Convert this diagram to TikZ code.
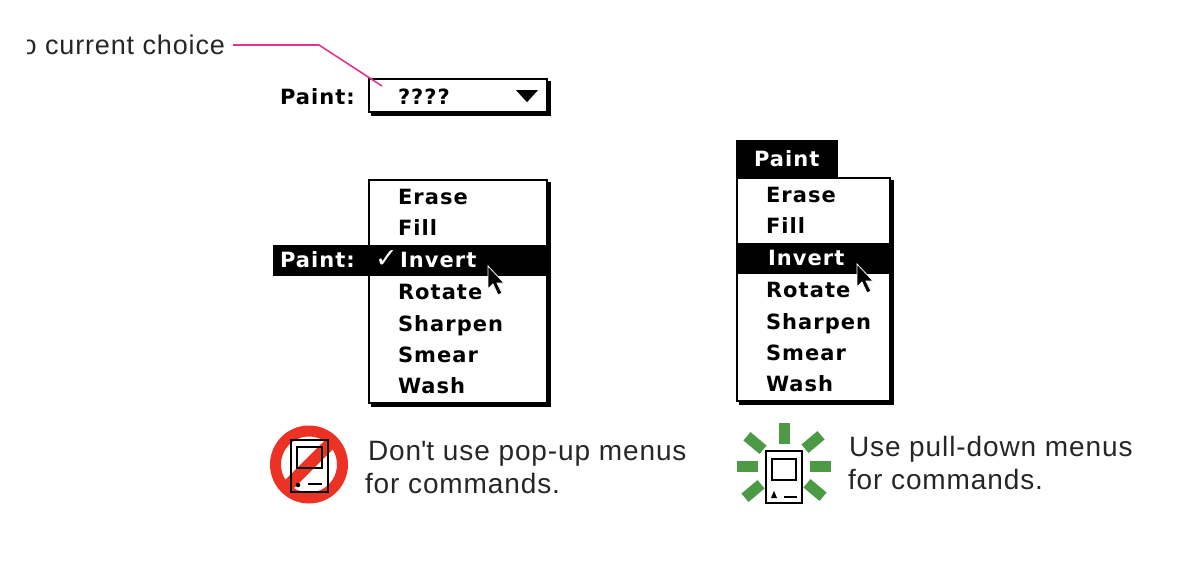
\documentclass[tikz,border=0pt]{standalone}
\usepackage{fontspec}
\usepackage{xcolor}
\setmainfont[LetterSpace=3.2]{Liberation Sans}
\newfontfamily\menufont[LetterSpace=5]{DejaVu Sans}
\newfontfamily\markfont{DejaVu Sans}
\usetikzlibrary{shapes.geometric, arrows.meta, positioning, calc, shadows}
\definecolor{leaderpink}{RGB}{226, 52, 146}
\definecolor{norred}{RGB}{236, 50, 36}
\definecolor{rayGreen}{RGB}{76, 154, 70}

\tikzset{
    pics/cursorarrow/.style={code={
        \draw[fill=black, draw=white, line width=0.8pt, line join=miter]
            (0,0) -- (0,23) -- (5,18) -- (10,29) -- (14,27) -- (9,17) -- (16,17) -- cycle;
    }}
}

\begin{document}
\begin{tikzpicture}[
    x=1pt, y=-1pt,
    every node/.style={inner sep=0pt, outer sep=0pt},
    menubox/.style={draw=black, fill=white, line width=1.2pt, anchor=north west,
        copy shadow={shadow xshift=3pt, shadow yshift=-3pt, fill=black, draw=black}},
    menuitem/.style={anchor=base west, font=\menufont\bfseries\fontsize{21}{24}\selectfont},
    hilite/.style={fill=black, anchor=north west},
    noteline/.style={anchor=north west, align=left, font=\fontsize{28}{33.5}\selectfont, text=black!85},
    macbody/.style={draw=black, line width=1.3pt},
    greenray/.style={fill=rayGreen, minimum width=21pt, minimum height=11pt}
]
\useasboundingbox (0,0) rectangle (1198,584);

% Leader label, cut off by the left edge
\begin{scope}
\clip (27,20) rectangle (240,70);
\node[anchor=east, font=\fontsize{27}{30}\selectfont, text=black!85] (choice) at (225,45) {to current choice};
\end{scope}

% Closed pop-up
\node[menubox, minimum width=178pt, minimum height=33pt] (popup) at (369,79) {};
\node[menuitem] (popuplabel) at (280,104) {Paint:};
\node[menuitem] (popupvalue) at (398,104) {????};
\node[fill=black, isosceles triangle, isosceles triangle apex angle=85, shape border rotate=-90, minimum height=11pt, minimum width=22pt] (popuparrow) at (527,95) {};

\coordinate (bend) at (319,45);
\coordinate (leaderend) at (382,86);
\draw[leaderpink, line width=1.6pt] ($(choice.east)+(8,0)$) -- (bend) -- (leaderend);

% Open pop-up menu
\node[menubox, minimum width=178pt, minimum height=223pt] (popmenu) at (369,180) {};
\node[hilite, minimum width=275pt, minimum height=31pt] (popbar) at (273,245) {};
\foreach \n/\ypos in {Erase/204, Fill/235, Rotate/299, Sharpen/331, Smear/362, Wash/393}
    \node[menuitem] (pop\n) at (398,\ypos) {\n};
\node[menuitem, text=white] (poppaint) at (280,267) {Paint:};
\node[anchor=west, text=white, font=\markfont\fontsize{27}{28}\selectfont] (popcheck) at (375,259) {✓};
\node[menuitem, text=white] (popInvert) at (400,267) {Invert};
\pic at (488,266) {cursorarrow};

% Pull-down menu
\node[hilite, minimum width=102pt, minimum height=38pt] (pulltitle) at (736,140) {};
\node[menuitem, text=white] (pullname) at (754,166) {Paint};
\node[menubox, minimum width=153pt, minimum height=223pt] (pullmenu) at (737,178) {};
\node[hilite, minimum width=153pt, minimum height=31pt] (pullbar) at (737,243) {};
\foreach \n/\ypos in {Erase/202, Fill/233, Rotate/297, Sharpen/329, Smear/360, Wash/391}
    \node[menuitem] (pull\n) at (766,\ypos) {\n};
\node[menuitem, text=white] (pullInvert) at (768,265) {Invert};
\pic at (857,264) {cursorarrow};

% Forbidden icon
\node[circle, draw=norred, line width=11pt, minimum size=67pt] (noring) at (309,464.5) {};
\draw[norred, line width=12pt] (noring.north east) -- (noring.south west);
\node[macbody, minimum width=37pt, minimum height=52pt] (nomac) at (309.5,466) {};
\node[macbody, minimum width=25pt, minimum height=21pt, anchor=north west] (noscreen) at (297,447) {};
\node[circle, fill=black, minimum size=4.5pt] (nodot) at (298,485) {};
\draw[line width=1.3pt] (308,484) -- (322,484);
\node[noteline] (nonote) at (365,441) {\hspace*{3pt}Don\textquotesingle t use pop-up menus\\for commands.};

% Approved icon
\node[macbody, minimum width=36pt, minimum height=52pt] (okmac) at (784,477) {};
\node[macbody, minimum width=24pt, minimum height=21pt, anchor=north west] (okscreen) at (772,459) {};
\node[isosceles triangle, fill=black, shape border rotate=90, minimum height=4pt, minimum width=6pt] (oktri) at (774,496) {};
\draw[line width=1.3pt] (784,497) -- (797,497);
\foreach \cx/\cy/\ang in {784/433/90, 747.5/466/0, 820.5/466/0, 755/443/-40, 813/442/40, 753/491/40, 815/490/-40}
    \node[greenray, rotate=\ang] (ray\cx) at (\cx,\cy) {};
\node[noteline] (oknote) at (848,436) {\hspace*{1pt}Use pull-down menus\\for commands.};
\end{tikzpicture}
\end{document}
